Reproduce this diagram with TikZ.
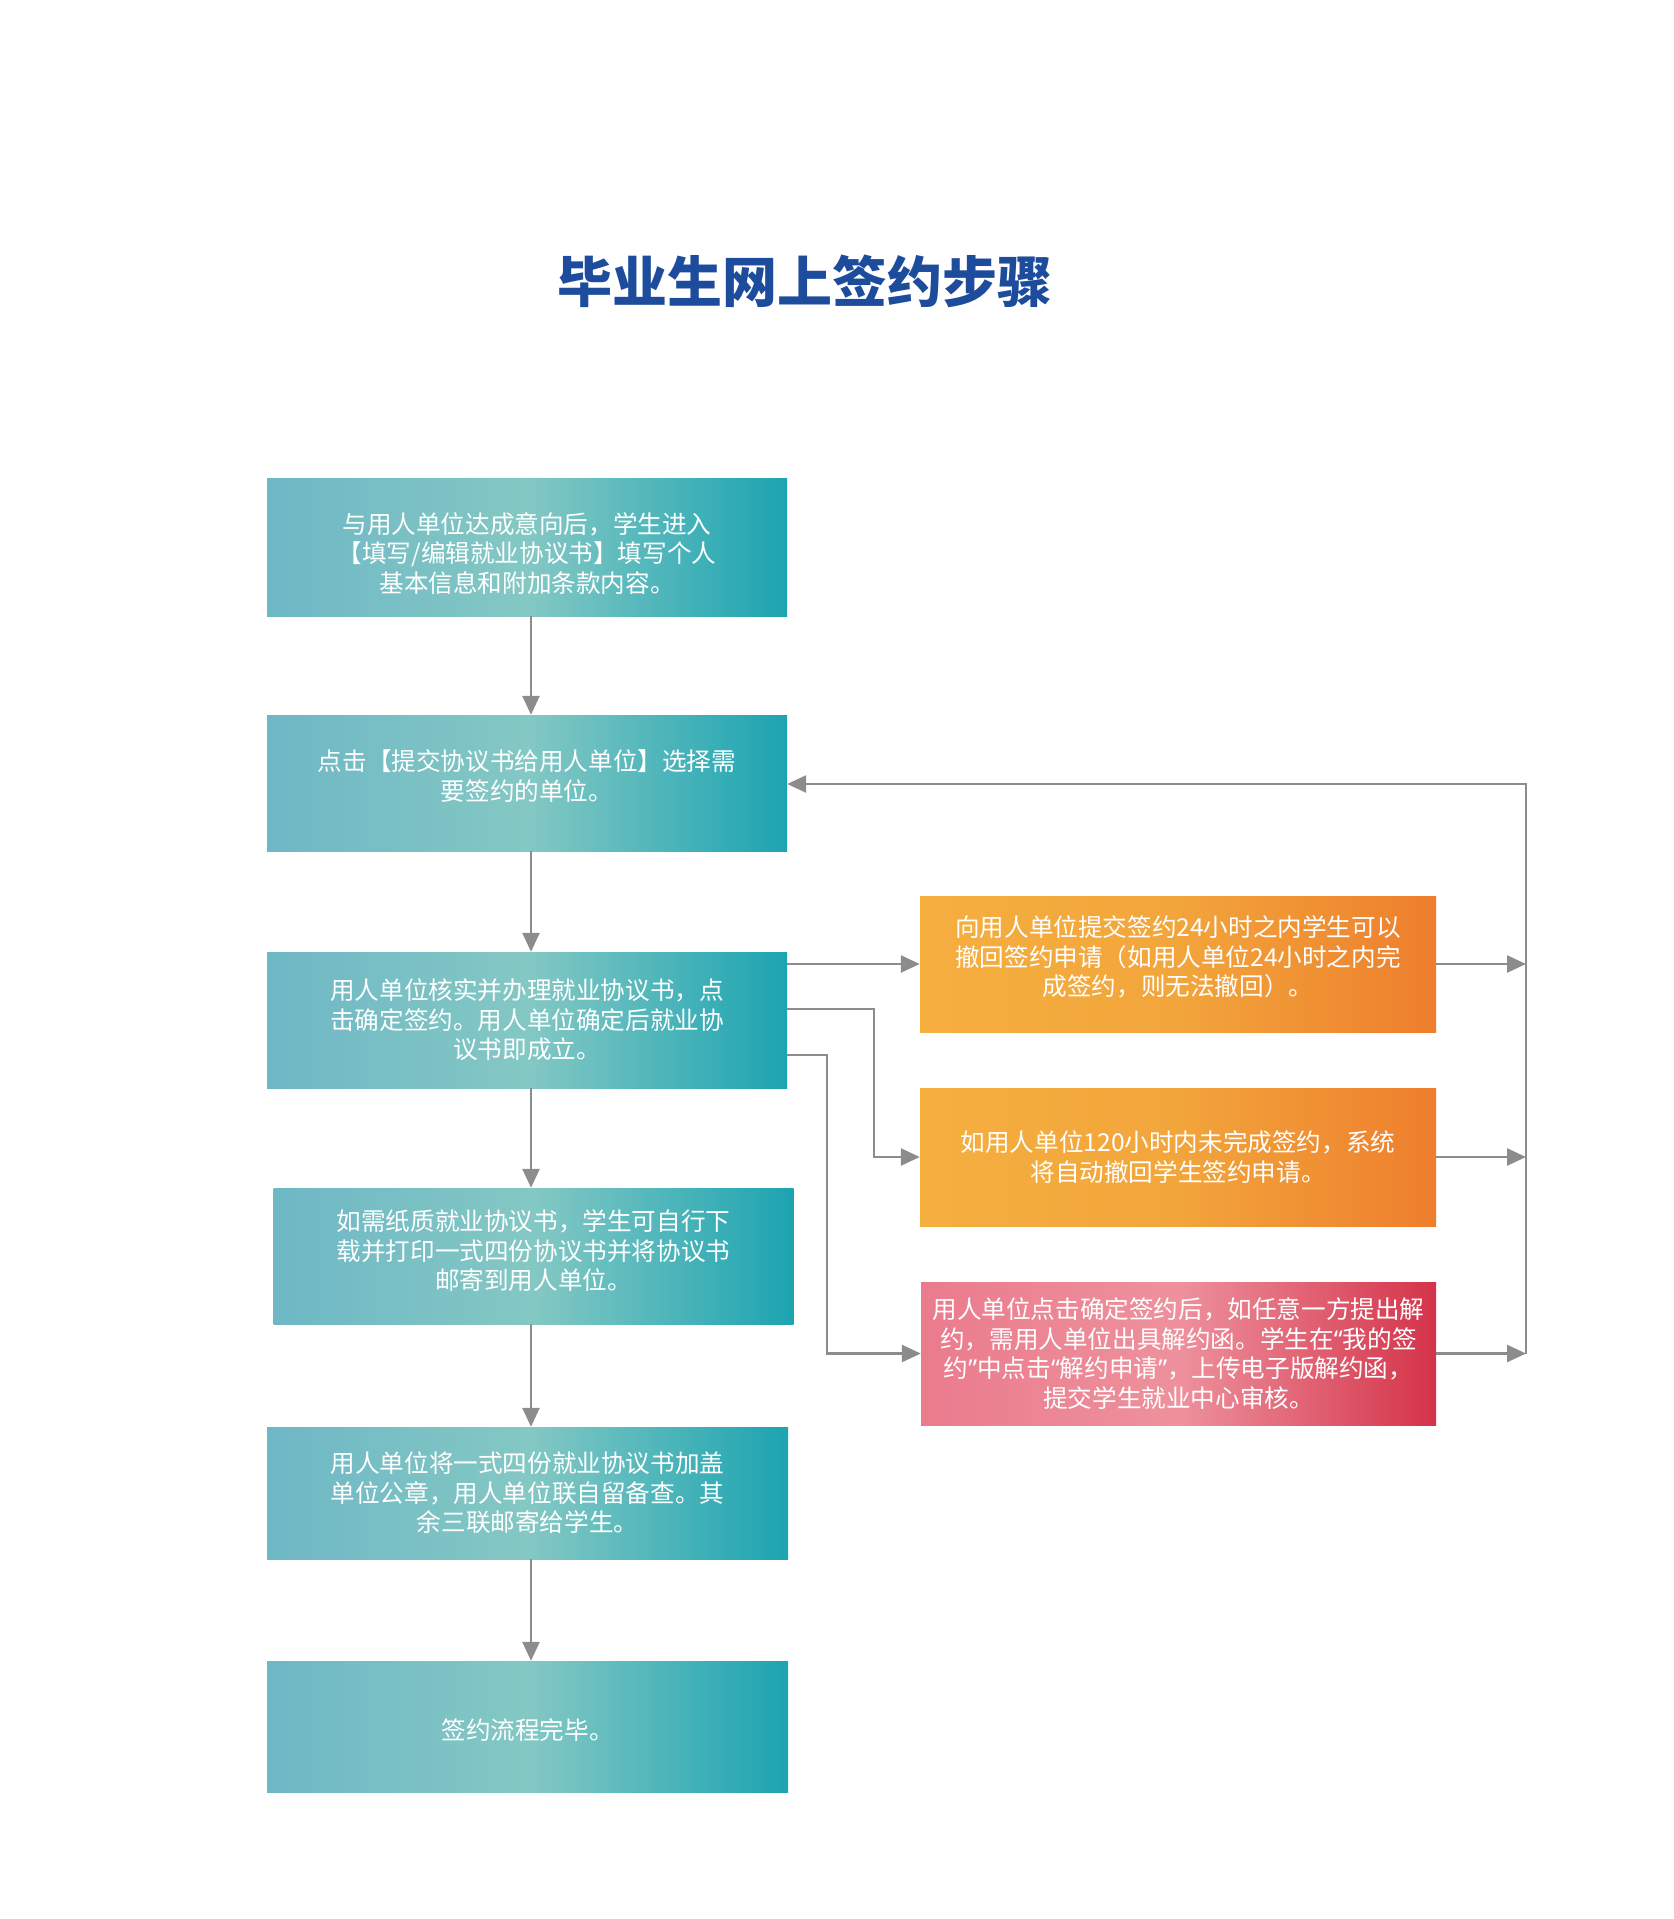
\documentclass[tikz,border=0pt]{standalone}
\usepackage{fontspec}
\usetikzlibrary{arrows.meta,calc}
\newfontfamily\cjk{Noto Sans CJK SC}
\newfontfamily\latinq{Noto Sans}
\newcommand{\myoq}{{\latinq “}}
\newcommand{\mycq}{{\latinq ”}}
\newcommand{\downpad}[1]{\rule[-#1]{0pt}{0pt}}
\newcommand{\uppad}[1]{\rule{0pt}{#1}}
\definecolor{titleblue}{HTML}{1D4C9C}
\definecolor{tl}{HTML}{6EB7C5}
\definecolor{tm}{HTML}{84C8C4}
\definecolor{tr}{HTML}{1CA4B1}
\definecolor{ol}{HTML}{F5AF3F}
\definecolor{om}{HTML}{F2A53B}
\definecolor{or}{HTML}{EE7E2D}
\definecolor{pl}{HTML}{EA7B8D}
\definecolor{pm}{HTML}{EE919D}
\definecolor{pr}{HTML}{D4334A}
\definecolor{arrgray}{HTML}{8C8C8C}
\begin{document}
\begin{tikzpicture}[x=1pt,y=-1pt,
  box/.style={minimum width=520pt,minimum height=136pt,inner sep=0pt,align=center,text=white,
    font=\cjk\fontsize{24.6}{29.5}\selectfont},
  tbox/.style={box,left color=tl,right color=tr,middle color=tm},
  obox/.style={box,minimum width=516pt,left color=ol,right color=or,middle color=om},
  pbox/.style={box,minimum width=515pt,left color=pl,right color=pr,middle color=pm},
  arr/.style={draw=arrgray,line width=2.5pt,-{Triangle[length=19pt,width=17pt]}}
]
\useasboundingbox (0,0) rectangle (1673,1919);

\node[text=titleblue,font=\cjk\bfseries\fontsize{55}{55}\selectfont] (title) at (805,281) {毕业生网上签约步骤};

\node[tbox,minimum height=138pt] (b1) at (527,547) {\uppad{34pt}与用人单位达成意向后，学生进入\\【填写/编辑就业协议书】填写个人\\基本信息和附加条款内容。};
\node[tbox] (b2) at (527,783) {点击【提交协议书给用人单位】选择需\\要签约的单位。\downpad{16pt}};
\node[tbox] (b3) at (527,1020) {用人单位核实并办理就业协议书，点\\击确定签约。用人单位确定后就业协\\议书即成立。};
\node[tbox] (b4) at (533.5,1256) {如需纸质就业协议书，学生可自行下\\载并打印一式四份协议书并将协议书\\邮寄到用人单位。\downpad{12pt}};
\node[tbox,minimum height=132pt,minimum width=521pt] (b5) at (527.5,1493) {用人单位将一式四份就业协议书加盖\\单位公章，用人单位联自留备查。其\\余三联邮寄给学生。};
\node[tbox,minimum height=131pt,minimum width=521pt] (b6) at (527.5,1726.5) {\uppad{27pt}签约流程完毕。};

\node[obox] (a) at (1178,964) {向用人单位提交签约24小时之内学生可以\\撤回签约申请（如用人单位24小时之内完\\成签约，则无法撤回）。\downpad{16pt}};
\node[obox,minimum height=138pt] (b) at (1178,1157) {如用人单位120小时内未完成签约，系统\\将自动撤回学生签约申请。};
\node[pbox,minimum height=143pt] (c) at (1178.5,1353.5) {用人单位点击确定签约后，如任意一方提出解\\约，需用人单位出具解约函。学生在\myoq 我的签\\约\mycq 中点击\myoq 解约申请\mycq ，上传电子版解约函，\\提交学生就业中心审核。};

% main vertical flow
\draw[arr] ([xshift=4pt]b1.south) -- ([xshift=4pt]b1.south |- b2.north);
\draw[arr] ([xshift=4pt]b2.south) -- ([xshift=4pt]b2.south |- b3.north);
\draw[arr] ([xshift=4pt]b3.south) -- ([xshift=4pt]b3.south |- b4.north);
\draw[arr] ([xshift=-2.5pt]b4.south) -- ([xshift=-2.5pt]b4.south |- b5.north);
\draw[arr] ([xshift=3.5pt]b5.south) -- ([xshift=3.5pt]b5.south |- b6.north);

% branches from b3
\coordinate (p1) at (874,1009);
\coordinate (p2) at (827,1055);
\draw[arr] (b3.east |- a.west) -- (a.west);
\draw[arr] (b3.east |- p1) -- (p1) |- (b.west);
\draw[arr] (b3.east |- p2) -- (p2) |- (c.west);

% return loop
\coordinate (r) at (1526,784);
\draw[arr] (a.east) -- (a.east -| r);
\draw[arr] (b.east) -- (b.east -| r);
\draw[arr] (c.east) -- (c.east -| r);
\draw[arr] (c.east -| r) -- (r) -- (b2.east |- r);
\end{tikzpicture}
\end{document}
